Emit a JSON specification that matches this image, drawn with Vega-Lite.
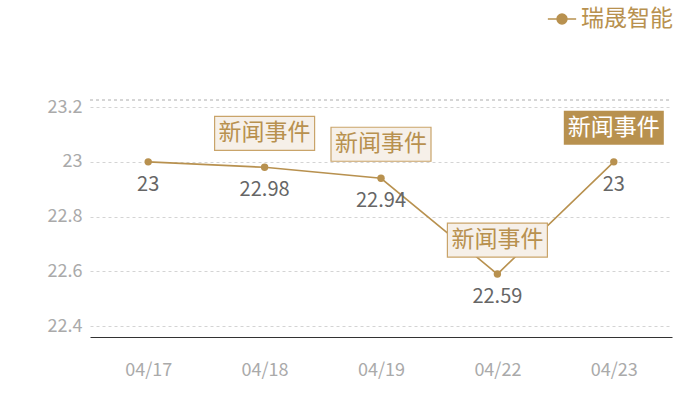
{
  "$schema": "https://vega.github.io/schema/vega-lite/v6.json",
  "width": 582,
  "height": 237,
  "autosize": {"type": "none"},
  "padding": {"left": 90, "top": 100, "right": 28, "bottom": 63},
  "background": "white",
  "config": {
    "view": {"stroke": null},
    "font": "Noto Sans CJK SC"
  },
  "data": {
    "values": [
      {"date": "04/17", "price": 23, "event": false, "latest": false},
      {"date": "04/18", "price": 22.98, "event": true, "latest": false},
      {"date": "04/19", "price": 22.94, "event": true, "latest": false},
      {"date": "04/22", "price": 22.59, "event": true, "latest": false},
      {"date": "04/23", "price": 23, "event": true, "latest": true}
    ]
  },
  "encoding": {
    "x": {
      "field": "date",
      "type": "ordinal",
      "scale": {"type": "point", "padding": 0.5},
      "axis": {
        "title": null,
        "labelAngle": 0,
        "ticks": false,
        "domainColor": "#333333",
        "labelColor": "#aaaaaa",
        "labelFontSize": 18,
        "labelPadding": 24
      }
    },
    "y": {
      "field": "price",
      "type": "quantitative",
      "scale": {"domain": [22.36, 23.226], "nice": false, "zero": false},
      "axis": {
        "title": null,
        "values": [22.4, 22.6, 22.8, 23, 23.2],
        "format": "~g",
        "domain": false,
        "ticks": false,
        "labelColor": "#aaaaaa",
        "labelFontSize": 18,
        "labelPadding": 8,
        "gridColor": "#d4d4d4",
        "gridDash": [3, 3]
      }
    }
  },
  "layer": [
    {
      "mark": {"type": "rule", "color": "#d4d4d4", "strokeDash": [3, 3]},
      "encoding": {"x": {"value": 0}, "x2": {"value": 582}, "y": {"datum": 23.226}}
    },
    {
      "mark": {"type": "line", "strokeWidth": 1.6},
      "encoding": {
        "color": {
          "datum": "瑞晟智能",
          "scale": {"range": ["#b8914f"]},
          "legend": {
            "title": null,
            "orient": "none",
            "legendX": 457,
            "legendY": -96,
            "symbolType": "M-1,0L-0.35,0M0.35,0L1,0M-0.35,0A0.35,0.35 0 1,0 0.35,0A0.35,0.35 0 1,0 -0.35,0Z",
            "symbolSize": 800,
            "symbolStrokeWidth": 1.5,
            "symbolFillColor": "#b8914f",
            "symbolStrokeColor": "#b8914f",
            "labelColor": "#b8914f",
            "labelFontSize": 23,
            "labelOffset": 4,
            "labelLimit": 200
          }
        }
      }
    },
    {
      "mark": {"type": "point", "filled": true, "size": 55, "color": "#b8914f", "opacity": 1}
    },
    {
      "mark": {"type": "text", "dy": 23, "fontSize": 20, "color": "#666666"},
      "encoding": {"text": {"field": "price", "type": "quantitative"}}
    },
    {
      "transform": [{"filter": "datum.event && !datum.latest"}],
      "mark": {
        "type": "point",
        "shape": "M-1,-0.34L1,-0.34L1,0.34L-1,0.34Z",
        "size": 10000,
        "filled": true,
        "fill": "#f6f0e9",
        "stroke": "#c9a46a",
        "strokeWidth": 1.2,
        "opacity": 1,
        "yOffset": -34
      }
    },
    {
      "transform": [{"filter": "datum.latest"}],
      "mark": {
        "type": "point",
        "shape": "M-1,-0.34L1,-0.34L1,0.34L-1,0.34Z",
        "size": 10000,
        "filled": true,
        "fill": "#b8914f",
        "opacity": 1,
        "yOffset": -34
      }
    },
    {
      "transform": [{"filter": "datum.event && !datum.latest"}],
      "mark": {"type": "text", "text": "新闻事件", "dy": -34, "baseline": "middle", "fontSize": 23, "color": "#b8914f"}
    },
    {
      "transform": [{"filter": "datum.latest"}],
      "mark": {"type": "text", "text": "新闻事件", "dy": -34, "baseline": "middle", "fontSize": 23, "color": "#ffffff"}
    }
  ]
}
